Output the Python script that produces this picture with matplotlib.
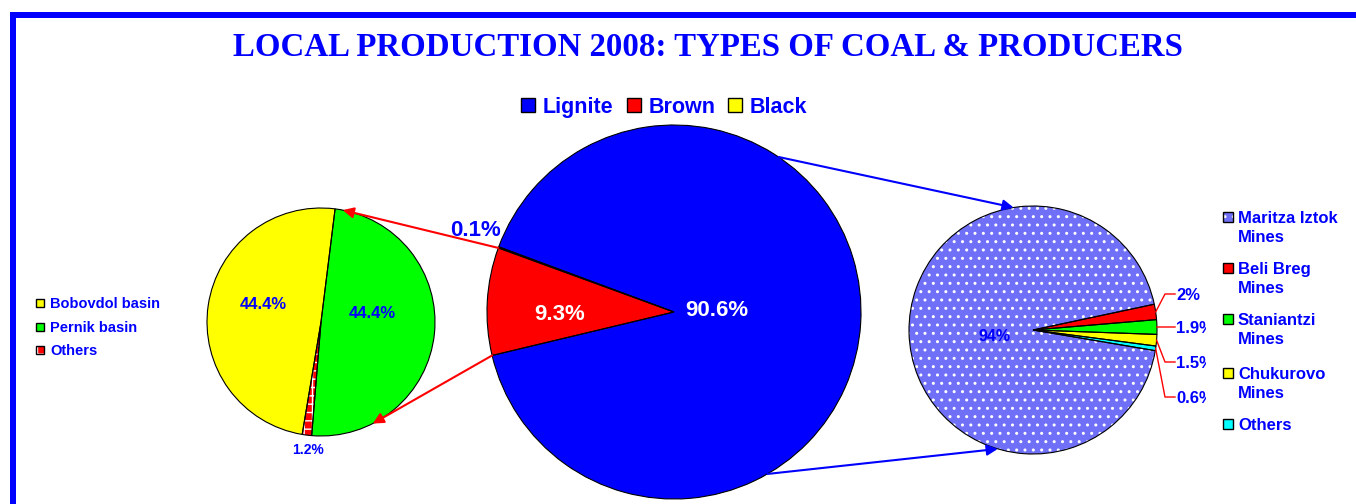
import matplotlib.pyplot as plt
from matplotlib.patches import Rectangle
from matplotlib.transforms import Bbox, TransformedBbox
import numpy as np

# data
types = ['Lignite', 'Brown', 'Black']
types_share = [90.6, 9.3, 0.1]
types_colors = ['#0000ff', '#ff0000', '#ffff00']

brown_prod = ['Bobovdol basin', 'Pernik basin', 'Others']
brown_share = [44.4, 44.4, 1.2]
brown_colors = ['#ffff00', '#00ff00', '#ff0000']

lignite_prod = ['Maritza Iztok\nMines', 'Beli Breg\nMines', 'Staniantzi\nMines',
                'Chukurovo\nMines', 'Others']
lignite_share = [94, 2, 1.9, 1.5, 0.6]
lignite_colors = ['#6f6ff8', '#ff0000', '#00ff00', '#ffff00', '#00ffff']

BLUE = '#0000ff'
W, H = 1356, 504
SANS = 'Liberation Sans'


def py(y):
    # screen row (from top) -> axes y (from bottom)
    return H - y


fig = plt.figure(figsize=(13.56, 5.04), dpi=100)
ax = fig.add_axes([0, 0, 1, 1])


def ctext(x, y, s, fs, **kw):
    # put the middle of the capitals at y (axes coords, px)
    base = y - 0.358 * fs * 100 / 72
    return ax.text(x, base, s, va='baseline', fontsize=fs, fontweight='bold',
                   family=kw.pop('family', SANS), **kw)


def draw_pie(vals, colors, center, radius, start, hatches):
    wedges, _ = ax.pie(vals, colors=colors, center=center, radius=radius,
                       startangle=start, counterclock=False, frame=True,
                       wedgeprops=dict(linewidth=0))
    for w, h in zip(wedges, hatches):
        if h:
            w.set_hatch(h)
            w.set_edgecolor('white')
    # black outlines on top
    ax.pie(vals, colors=['none'] * len(vals), center=center, radius=radius,
           startangle=start, counterclock=False, frame=True,
           wedgeprops=dict(edgecolor='black', linewidth=0.8, fill=False))
    return wedges


def edge_point(center, radius, ang):
    a = np.deg2rad(ang)
    return (center[0] + radius * np.cos(a), center[1] + radius * np.sin(a))


def mid(w):
    return (w.theta1 + w.theta2) / 2


def fmt(v):
    return f'{v:g}%'


# main pie
c_main, r_main = (674, py(312)), 187
w_main = draw_pie(types_share, types_colors, c_main, r_main, 159.6, [None] * 3)
# left pie (brown coal producers)
c_left, r_left = (321, py(322)), 114
w_left = draw_pie(brown_share, brown_colors, c_left, r_left, 260.5, [None, None, '++'])
# right pie (lignite producers)
c_right, r_right = (1033, py(330)), 124
w_right = draw_pie(lignite_share, lignite_colors, c_right, r_right, -9.6,
                   ['..', None, None, None, None])

# label placement: (angle nudge from wedge middle, distance as share of radius)
main_lab = [(8.8, 0.231), (3.3, 0.61), (-2.7, 1.155)]
left_lab = [(-9.8, 0.535), (17, 0.456), (1.3, 1.12)]

for w, v, (da, d), col in zip(w_main, types_share, main_lab, ['white', 'white', BLUE]):
    x, y = edge_point(c_main, d * r_main, mid(w) + da)
    ctext(x, y, fmt(v), 16, ha='center', color=col)

for w, v, (da, d), fs in zip(w_left, brown_share, left_lab, [12, 12, 10]):
    x, y = edge_point(c_left, d * r_left, mid(w) + da)
    ctext(x, y, fmt(v), fs, ha='center', color=BLUE)

x, y = edge_point(c_right, 0.31 * r_right, mid(w_right[0]) + 6.3)
ctext(x, y, fmt(lignite_share[0]), 11.5, ha='center', color=BLUE)

clip = TransformedBbox(Bbox([[0, 0], [1206, H]]), ax.transData)
for w, v, ly in zip(w_right[1:], lignite_share[1:], [294, 327, 362, 397]):
    sx, sy = edge_point(c_right, r_right, mid(w))
    ax.plot([sx, 1165, 1175], [sy, py(ly), py(ly)], color='#ff0000', lw=1)
    t = ctext(1176, py(ly), fmt(v), 12, ha='left', color=BLUE)
    t.set_clip_box(clip)
    t.set_clip_on(True)


# connector arrows
def arrow(p1, p2, color):
    ax.annotate('', xy=p2, xytext=p1,
                arrowprops=dict(arrowstyle='-|>', color=color, lw=1.5,
                                shrinkA=0, shrinkB=0, mutation_scale=16))


arrow(edge_point(c_main, r_main, w_main[1].theta1), edge_point(c_left, r_left, 79), '#ff0000')
arrow(edge_point(c_main, r_main, w_main[1].theta2), edge_point(c_left, r_left, -63), '#ff0000')
arrow(edge_point(c_main, r_main, 56), edge_point(c_right, r_right, 99), BLUE)
arrow(edge_point(c_main, r_main, -60), edge_point(c_right, r_right, 253.5), BLUE)


# legends
def legend_item(x, y, size, label, face, hatch, fs, tx, line_gap=19):
    ax.add_patch(Rectangle((x, py(y) - size / 2), size, size, facecolor=face,
                           edgecolor='white' if hatch else 'black', lw=0, hatch=hatch))
    ax.add_patch(Rectangle((x, py(y) - size / 2), size, size, fill=False,
                           edgecolor='black', lw=1))
    for i, line in enumerate(label.split('\n')):
        ctext(tx, py(y + i * line_gap), line, fs, ha='left', color=BLUE)


for lab, col, sx in zip(types, types_colors, [521, 627, 728]):
    legend_item(sx, 105, 14, lab, col, None, 15.5, sx + 22)

for lab, col, hat, ly in zip(brown_prod, brown_colors, [None, None, '++'], [303, 327, 350]):
    legend_item(36, ly, 8, lab, col, hat, 10.5, 50)

for lab, col, hat, ly in zip(lignite_prod, lignite_colors, ['..', None, None, None, None],
                             [217, 268, 319, 373, 424]):
    legend_item(1223, ly, 10, lab, col, hat, 12, 1238)

# title
ax.text(708, py(55.5), 'LOCAL PRODUCTION 2008: TYPES OF COAL & PRODUCERS',
        ha='center', va='baseline', color=BLUE, fontsize=23.7, fontweight='bold',
        family='Liberation Serif')

# border (only top and left visible)
ax.add_patch(Rectangle((10, py(18)), W - 10, 6, color=BLUE, lw=0))
ax.add_patch(Rectangle((10, 0), 6, py(12), color=BLUE, lw=0))

ax.set_xlim(0, W)
ax.set_ylim(0, H)
ax.axis('off')

plt.savefig('out.png', dpi=100)
